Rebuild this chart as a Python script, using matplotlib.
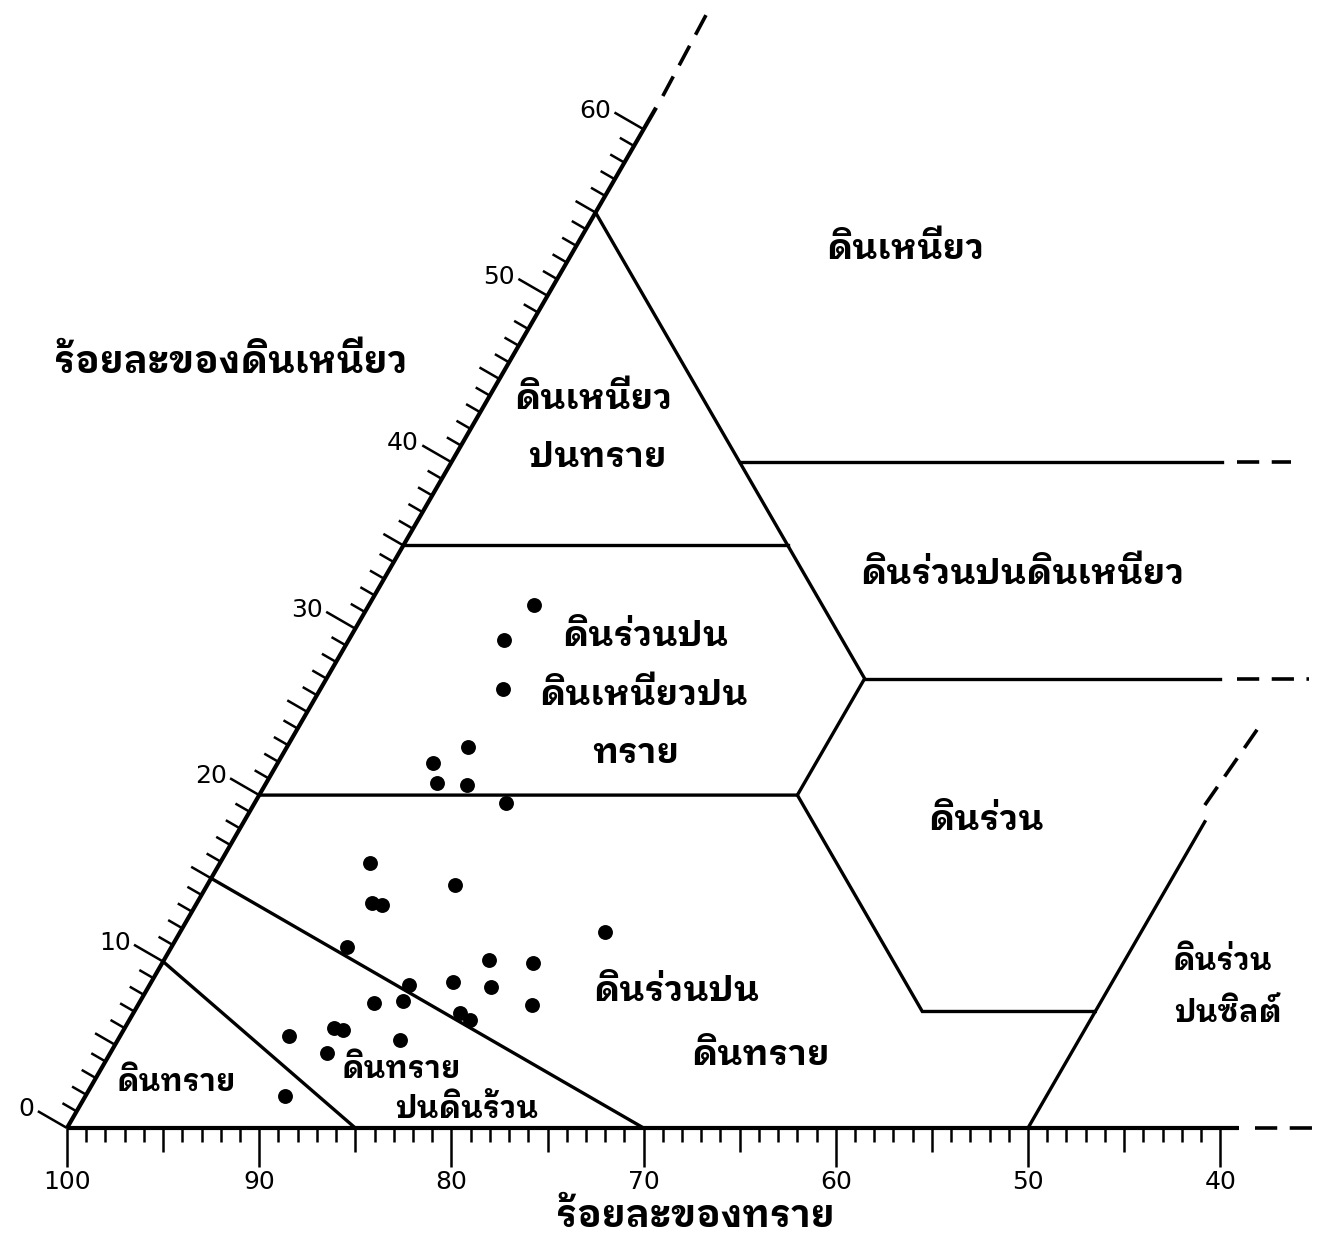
import numpy as np
import matplotlib
matplotlib.use("Agg")
import matplotlib.pyplot as plt
from matplotlib import font_manager
from matplotlib.ft2font import FT2Font
from matplotlib.collections import LineCollection

# soil samples: percent sand / percent clay
sand_pct = [60.0, 62.6, 64.1, 67.7, 70.0, 70.4, 68.9, 67.4, 76.3, 72.5,
            77.4, 76.9, 66.1, 80.0, 73.0, 70.8, 77.9, 75.5, 73.7, 80.3,
            78.7, 72.1, 76.1, 75.8, 85.7, 83.1, 82.7, 80.0, 84.2, 87.7]
clay_pct = [31.4, 29.3, 26.4, 22.9, 21.9, 20.7, 20.6, 19.5, 15.9, 14.6,
            13.5, 13.4, 11.8, 10.9, 10.1, 9.9, 8.6, 8.8, 8.5, 7.5,
            7.6, 7.4, 6.9, 6.5, 5.5, 6.0, 5.9, 5.3, 4.5, 1.9]

clay_ticks = [0, 10, 20, 30, 40, 50, 60]
sand_ticks = [100, 90, 80, 70, 60, 50, 40]

# texture class boundaries as (sand, clay) vertices
boundaries = [
    [(85, 0), (90, 10)],                       # sand
    [(70, 0), (85, 15)],                       # loamy sand
    [(80, 20), (52, 20), (52, 7), (43, 7)],    # sandy loam / loam
    [(50, 0), (31.6, 18.4)],                   # silt loam
    [(52, 20), (45, 27), (45, 55)],            # sandy clay loam / sandy clay
    [(65, 35), (45, 35)],
    [(45, 40), (19.9, 40)],                    # clay
    [(45, 27), (26.5, 27)],                    # clay loam
]
dashed_ext = [
    [(38.0, 62.0), (32.9, 67.3)],              # clay axis beyond 61 %
    [(38.2, 0), (35.1, 0)],
    [(19.1, 40), (16.3, 40)],
    [(25.6, 27), (21.9, 27)],
    [(31.1, 19.4), (25.6, 24.4)],
]

# region names: (text, x, y, size) in chart units
region_labels = [
    ("ดินเหนียว", 43.6, 45.2, 25.5),
    ("ดินเหนียว", 27.4, 37.4, 25.5),
    ("ปนทราย", 27.6, 34.4, 25.5),
    ("ดินร่วนปนดินเหนียว", 49.7, 28.3, 25.5),
    ("ดินร่วนปน", 30.1, 25.1, 25.5),
    ("ดินเหนียวปน", 30.0, 22.0, 25.5),
    ("ทราย", 29.6, 19.0, 25.5),
    ("ดินร่วน", 47.8, 15.5, 25.5),
    ("ดินร่วนปน", 31.7, 6.6, 25.5),
    ("ดินทราย", 36.1, 3.3, 25.5),
    ("ดินร่วน", 60.1, 8.2, 22),
    ("ปนซิลต์", 60.4, 5.5, 22),
    ("ดินทราย", 5.7, 1.9, 22),
    ("ดินทราย", 17.4, 2.6, 22),
    ("ปนดินร้วน", 20.8, 0.5, 22),
]

PX = 19.22  # pixels per percent
S3 = np.sqrt(3) / 2


def to_xy(sand, clay):
    sand = np.asarray(sand, float)
    clay = np.asarray(clay, float)
    silt = 100 - sand - clay
    return silt + clay / 2, clay * S3


def thai_family():
    names = []
    for fe in font_manager.fontManager.ttflist:
        try:
            if FT2Font(fe.fname).get_char_index(ord('ด')):
                names.append(fe.name)
        except Exception:
            pass
    for pref in ('Looped', 'Thai', ''):
        for n in names:
            if pref in n:
                return n
    return 'DejaVu Sans'


plt.rcParams['font.family'] = [thai_family(), 'DejaVu Sans']
plt.rcParams['lines.scale_dashes'] = False

fig = plt.figure(figsize=(13.19, 12.40), dpi=100)
ax = fig.add_axes([0, 0, 1, 1])
ax.set_xlim(-67 / PX, (1319 - 67) / PX)
ax.set_ylim(-(1240 - 1128) / PX, 1128 / PX)
ax.axis('off')

# axes lines
x, y = to_xy([100, 38.7], [0, 61.3])
ax.plot(x, y, color='black', lw=3.0, solid_capstyle='butt')
x, y = to_xy([100, 39.0], [0, 0])
ax.plot(x, y, color='black', lw=3.0, solid_capstyle='butt')

for seg in boundaries:
    s, c = zip(*seg)
    x, y = to_xy(s, c)
    ax.plot(x, y, color='black', lw=2.4, solid_joinstyle='miter')

for seg in dashed_ext:
    s, c = zip(*seg)
    x, y = to_xy(s, c)
    ax.plot(x, y, color='black', lw=2.6, linestyle=(0, (16, 9)))

# clay ticks on the left edge, normal pointing outwards
nrm = np.array([-S3, 0.5])
segs = []
for c in range(0, 61):
    L = 1.75 if c % 10 == 0 else (1.2 if c % 5 == 0 else 0.85)
    p = np.array(to_xy(100 - c, c))
    segs.append([p, p + L * nrm])
ax.add_collection(LineCollection(segs, colors='black', linewidths=1.8))
for c in clay_ticks:
    p = np.array(to_xy(100 - c, c)) + 1.95 * nrm
    ax.text(p[0], p[1], str(c), ha='right', va='center', fontsize=18,
            family='DejaVu Sans')

# sand ticks along the base
segs = []
for s in range(100, 39, -1):
    L = 2.05 if s % 10 == 0 else (1.25 if s % 5 == 0 else 0.75)
    px, _ = to_xy(s, 0)
    segs.append([(px, 0), (px, -L)])
ax.add_collection(LineCollection(segs, colors='black', linewidths=1.8))
for s in sand_ticks:
    px, _ = to_xy(s, 0)
    ax.text(px, -2.8, str(s), ha='center', va='center', fontsize=18,
            family='DejaVu Sans')

# samples
x, y = to_xy(sand_pct, clay_pct)
ax.scatter(x, y, s=115, color='black', zorder=5, linewidths=0)

for txt, tx, ty, fs in region_labels:
    ax.text(tx, ty, txt, ha='center', va='baseline', fontsize=fs,
            fontweight='bold')

ax.text(8.5, 39.3, "ร้อยละของดินเหนียว", ha='center', va='baseline',
        fontsize=27, fontweight='bold')
ax.text(32.7, -5.15, "ร้อยละของทราย", ha='center', va='baseline',
        fontsize=27, fontweight='bold')

fig.savefig('out.png', dpi=100)
